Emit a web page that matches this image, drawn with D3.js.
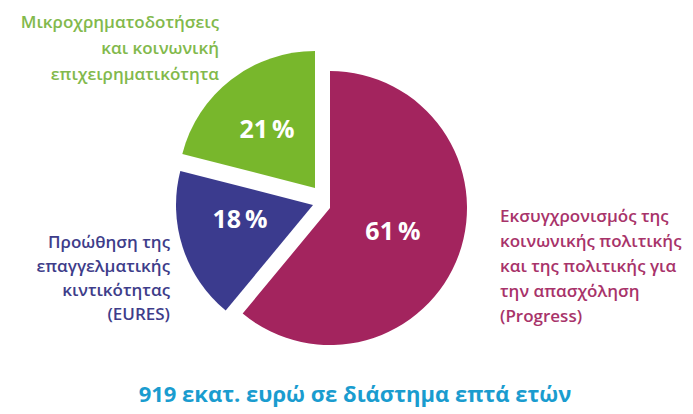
<!DOCTYPE html>
<html>
<head>
<meta charset="utf-8">
<script src="https://cdn.jsdelivr.net/npm/d3@7"></script>
<style>
  body { margin: 0; background: #fff; }
  svg { display: block; font-family: "Open Sans", "Noto Sans", sans-serif; }
</style>
</head>
<body>
<svg id="chart" width="693" height="414"></svg>
<script>
// Programme budget split (percent)
const programmes = ['Progress', 'EURES', 'Microfinance'];
const shares = [61, 18, 21];
const shareLabels = ['61\u2009%', '18\u2009%', '21\u2009%'];
const labelLines = [
    ['Εκσυγχρονισμός της', 'κοινωνικής πολιτικής', 'και της πολιτικής για', 'την απασχόληση', '(Progress)'],
    ['Προώθηση της', 'επαγγελματικής', 'κιντικότητας', '(EURES)'],
    ['Μικροχρηματοδοτήσεις', 'και κοινωνική', 'επιχειρηματικότητα']
];
const titleText = '919 εκατ. ευρώ σε διάστημα επτά ετών';

// Look
const colors = ['#a3245e', '#3b3b8e', '#78b72c'];
const textColors = ['#a8336a', '#3e3d8a', '#82b94c'];
const sliceShift = [[0, 0], [-17, -3], [-15, -20]];
const center = [330, 208];
const radius = 137;

const svg = d3.select('#chart');
const g = svg.append('g').attr('transform', `translate(${center})`);

const pie = d3.pie().sort(null).value(d => d)(shares);
const arc = d3.arc().innerRadius(0).outerRadius(radius);

const slices = g.selectAll('.slice')
    .data(pie)
    .enter().append('g')
    .attr('class', 'slice')
    .attr('transform', (d, i) => `translate(${sliceShift[i]})`);

slices.append('path')
    .attr('d', arc)
    .attr('fill', (d, i) => colors[i]);

// percentage labels inside slices
const pctPos = [[63, 22], [-73, 13], [-48, -60]];
slices.append('text')
    .attr('x', (d, i) => pctPos[i][0])
    .attr('y', (d, i) => pctPos[i][1])
    .attr('text-anchor', 'middle')
    .attr('dominant-baseline', 'central')
    .attr('fill', '#fff')
    .attr('font-weight', 'bold')
    .attr('font-size', 25)
    .text((d, i) => shareLabels[i]);

// outside category labels
const labelBlocks = [
    { x: 500, y: 215, anchor: 'start', step: 25 },
    { x: 170, y: 241, anchor: 'end', step: 24.3 },
    { x: 219, y: 21, anchor: 'end', step: 26 }
];
labelBlocks.forEach((b, i) => {
    const t = svg.append('text')
        .attr('text-anchor', b.anchor)
        .attr('fill', textColors[i])
        .attr('font-size', 17)
        .attr('font-weight', 600);
    labelLines[i].forEach((line, j) => {
        t.append('tspan')
            .attr('x', b.x)
            .attr('y', b.y + j * b.step)
            .attr('dominant-baseline', 'central')
            .text(line);
    });
});

svg.append('text')
    .attr('x', 355)
    .attr('y', 393)
    .attr('text-anchor', 'middle')
    .attr('dominant-baseline', 'central')
    .attr('fill', '#1a9ccf')
    .attr('font-weight', 'bold')
    .attr('font-size', 22)
    .text(titleText);
</script>
</body>
</html>
